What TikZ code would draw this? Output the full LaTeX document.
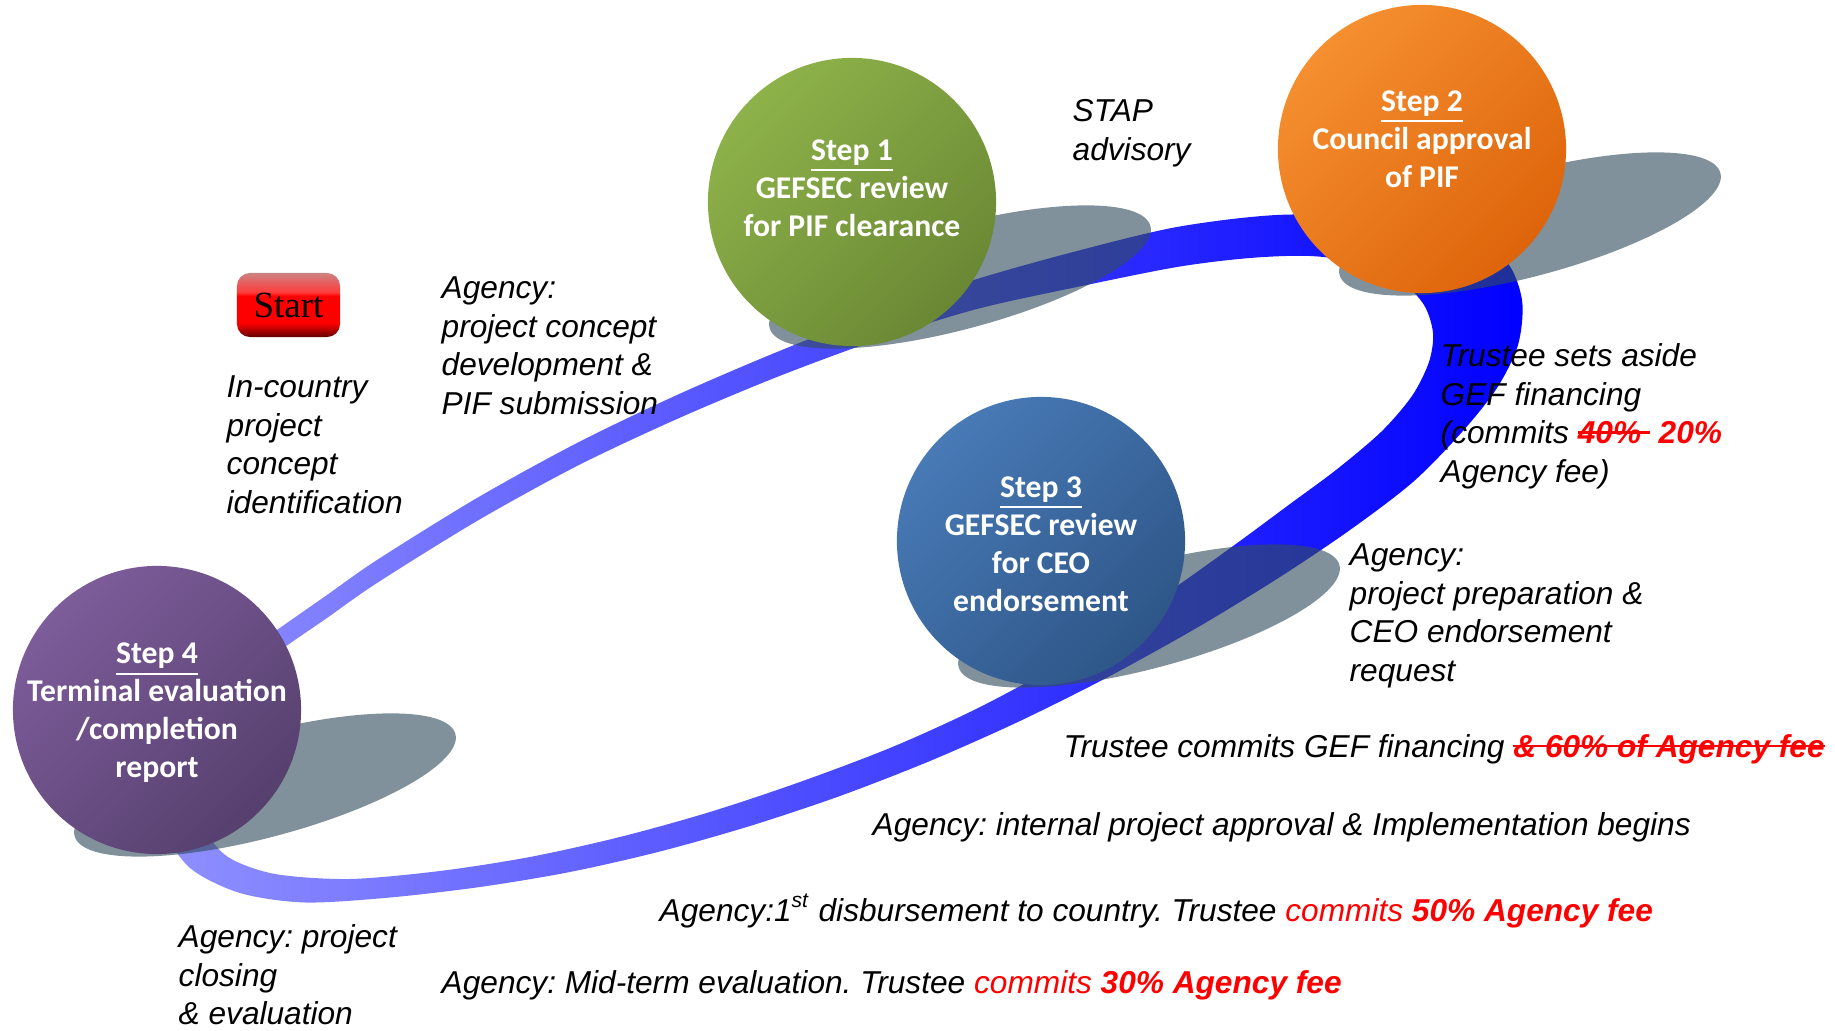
\documentclass[tikz,border=0pt]{standalone}
\usepackage{fontspec}
\setmainfont{Liberation Sans}
\newfontfamily\calfont{Carlito}
\newfontfamily\btnfont{Liberation Serif}
\frenchspacing
\usetikzlibrary{positioning}

\newlength{\strikelen}
\newcommand{\strikeit}[1]{\settowidth{\strikelen}{#1}\rlap{\rule[0.33em]{\strikelen}{0.6pt}}#1}

\definecolor{ribbonlight}{RGB}{145,145,255}
\definecolor{ribbonmid}{RGB}{115,115,255}
\definecolor{ribbondeep}{RGB}{0,0,255}
\definecolor{shadowslate}{RGB}{51,77,93}
\definecolor{greenhi}{RGB}{142,178,74}
\definecolor{greenlo}{RGB}{106,136,52}
\definecolor{orangehi}{RGB}{245,143,48}
\definecolor{orangelo}{RGB}{222,100,10}
\definecolor{bluehi}{RGB}{72,122,182}
\definecolor{bluelo}{RGB}{46,86,136}
\definecolor{purplehi}{RGB}{125,92,154}
\definecolor{purplelo}{RGB}{86,64,110}
\definecolor{btndark}{RGB}{100,0,0}
\definecolor{btnpink}{RGB}{255,60,60}
\definecolor{btntop}{RGB}{205,130,130}
\pgfdeclareverticalshading{startshade}{100bp}{color(0bp)=(btndark); color(25bp)=(btndark);
  color(36bp)=(red); color(57bp)=(red); color(60bp)=(btnpink); color(75bp)=(btntop); color(100bp)=(btntop)}

\begin{document}
\begin{tikzpicture}[x=0.01cm,y=-0.01cm,
    ball/.style={circle,minimum size=2.88cm,inner sep=0pt,shading angle=45},
    balltext/.style={text=white,align=center,inner sep=0pt,font=\calfont\bfseries\fontsize{9}{10.8}\selectfont},
    note/.style={align=left,inner sep=0pt,anchor=north west,font=\fontsize{9}{11}\selectfont\itshape},
    line/.style={inner sep=0pt,anchor=west,font=\fontsize{9}{11}\selectfont\itshape},
    shadow/.style={fill=shadowslate,fill opacity=0.62}]
    \useasboundingbox (0,0) rectangle (1835,1031);

    \shade[even odd rule,left color=ribbonlight,middle color=ribbonmid,right color=ribbondeep]
      plot[smooth cycle] coordinates {(277,630) (327,595) (377,560) (477,498) (577,443) (677,395)
        (777,352) (877,313) (977,279) (1077,251) (1177,227) (1277,215) (1377,217) (1455,232)
        (1505,260) (1522,300) (1518,345) (1497,388) (1462,432) (1413,482) (1350,530) (1280,577)
        (1200,626) (1110,676) (1020,721) (930,761) (840,796) (750,826) (660,851.5) (570,872)
        (480,887) (390,897.5) (305,902.5) (240,893) (190,868) (162,826) (155,776) (170,726)
        (200,686) (240,657)}
      plot[smooth cycle] coordinates {(277,653) (327,618) (377,583) (477,521) (577,466) (677,419)
        (777,377) (877,340) (977,309) (1077,287) (1177,267) (1250,258) (1310,256) (1360,263)
        (1400,280) (1424,305) (1433,333) (1429,362) (1412,396) (1381,432) (1336,470) (1290,504)
        (1240,541) (1180,584) (1110,632) (1040,675) (970,712) (890,748) (800,782) (710,812)
        (620,837) (530,857) (440,871) (350,879) (275,874) (228,857) (203,827) (195,790)
        (203,750) (225,712) (250,680)};

    \fill[shadow,rotate around={15:(960,277)}] (960,277) ellipse [x radius=1.97cm,y radius=0.52cm];
    \fill[shadow,rotate around={15:(1530,224)}] (1530,224) ellipse [x radius=1.97cm,y radius=0.52cm];
    \fill[shadow,rotate around={15:(1149,616)}] (1149,616) ellipse [x radius=1.97cm,y radius=0.52cm];
    \fill[shadow,rotate around={15:(265,785)}] (265,785) ellipse [x radius=1.97cm,y radius=0.52cm];

    \node[ball,top color=greenhi,bottom color=greenlo,shading angle=45] (step1) at (852,202) {};
    \node[ball,top color=orangehi,bottom color=orangelo,shading angle=45] (step2) at (1422,149) {};
    \node[ball,top color=bluehi,bottom color=bluelo,shading angle=45] (step3) at (1041,541) {};
    \node[ball,top color=purplehi,bottom color=purplelo,shading angle=45] (step4) at (157,710) {};

    \node[balltext] at ([yshift=0.14cm]step1.center) {\underline{Step 1}\\GEFSEC review\\for PIF clearance};
    \node[balltext] at ([yshift=0.1cm]step2.center) {\underline{Step 2}\\Council approval\\of PIF};
    \node[balltext] at ([yshift=-0.03cm]step3.center) {\underline{Step 3}\\GEFSEC review\\for CEO\\endorsement};
    \node[balltext] at ([yshift=-0.03cm]step4.center) {\underline{Step 4}\\Terminal evaluation\\/completion\\report};

    \node[shade,shading=startshade,rounded corners=0.13cm,minimum width=1.03cm,minimum height=0.64cm,
      inner sep=0pt,font=\btnfont\fontsize{10.5}{12}\selectfont] (start) at (288.5,305) {Start};

    \node[note] (ident) at (226,375) {In-country\\project\\concept\\identification};
    \node[note] (pifsub) at (441,276) {Agency:\\project concept\\development \&\\PIF submission};
    \node[note] (stap) at (1072,99) {STAP\\advisory};
    \node[note] (setaside) at (1440,343) {Trustee sets aside\\GEF financing\\(commits
      {\color{red}\bfseries\strikeit{40\%\ } 20\%}\\Agency fee)};
    \node[note] (ceoreq) at (1349,543) {Agency:\\project preparation \&\\CEO endorsement\\request};
    \node[note] (closing) at (178,924) {Agency: project\\closing\\\& evaluation};

    \node[line] (commit) at (1063,749) {Trustee commits GEF financing
      {\color{red}\bfseries\strikeit{\& 60\% of Agency fee}}};
    \node[line] (approval) at (872,827) {Agency: internal project approval \& Implementation begins};
    \node[line] (disburse) at (659,911) {Agency:1\textsuperscript{st} disbursement to country. Trustee
      {\color{red}commits \bfseries 50\% Agency fee}};
    \node[line] (midterm) at (441,985) {Agency: Mid-term evaluation. Trustee
      {\color{red}commits \bfseries 30\% Agency fee}};
\end{tikzpicture}
\end{document}
